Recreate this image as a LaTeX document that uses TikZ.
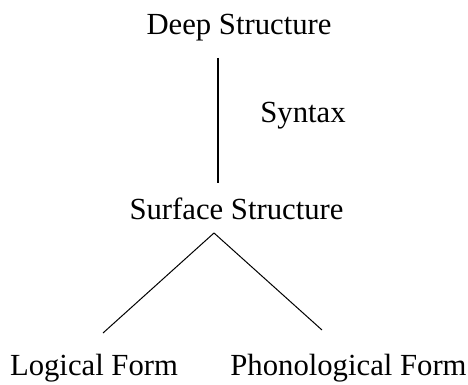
\documentclass[tikz,border=0pt]{standalone}
\usepackage{fontspec}
\setmainfont{Liberation Serif}
\begin{document}
\begin{tikzpicture}[x=1pt,y=-1pt,
  lbl/.style={anchor=base,inner sep=0pt,font=\fontsize{30.7}{36}\selectfont},
  link/.style={draw=black,line width=1pt},
  stem/.style={draw=black,line width=1.3pt}]
\useasboundingbox[fill=white] (0,0) rectangle (468,385);
\node[lbl] (deep) at (239,35) {Deep Structure};
\node[lbl] (syn) at (303,123) {Syntax};
\node[lbl] (surf) at (236.5,219) {Surface Structure};
\node[lbl] (lf) at (94,375) {Logical Form};
\node[lbl] (pf) at (348.5,375) {Phonological Form};
\coordinate (vtop) at (218,58);
\coordinate (vbot) at (218,183);
\coordinate (apex) at (214,233);
\coordinate (lfend) at (103,333);
\coordinate (pfend) at (322,330);
\draw[stem] (vtop) -- (vbot);
\draw[link] (lfend) -- (apex) -- (pfend);
\end{tikzpicture}
\end{document}
